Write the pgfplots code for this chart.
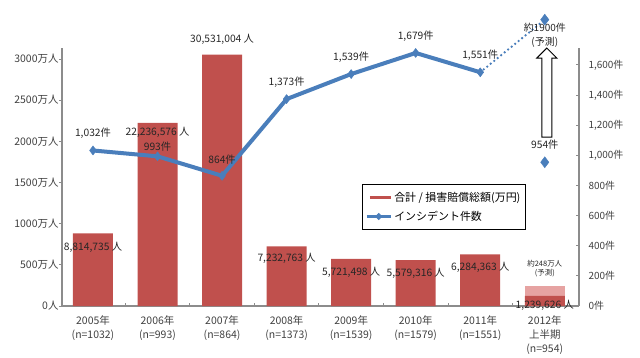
\documentclass[border=0pt]{standalone}
\usepackage{fontspec}
\setmainfont{Noto Sans CJK JP}
\usepackage{pgfplots}
\pgfplotsset{compat=1.18}
\usetikzlibrary{calc}
\definecolor{barred}{HTML}{C0504D}
\definecolor{barpink}{HTML}{E6A3A2}
\definecolor{lineblue}{HTML}{4A7EBB}
\definecolor{txt}{HTML}{404040}
\definecolor{axgray}{HTML}{8C8C8C}
\begin{document}
\begin{tikzpicture}[font=\fontsize{10.3}{12}\selectfont]
\useasboundingbox (0,0) rectangle (640bp,358bp);
% ---------- bars (left axis) ----------
\begin{axis}[
  at={(62bp,52bp)}, anchor=south west,
  width=517bp, height=258bp, scale only axis,
  xmin=-0.48, xmax=7.53, ymin=0, ymax=3134,
  axis y line*=left, axis x line*=bottom,
  axis line style={axgray, line width=1.2bp},
  tick align=inside,
  major tick style={axgray, line width=0.8bp},
  minor tick style={axgray, line width=0.8bp},
  ytick={0,500,...,3000},
  yticklabels={0人,500万人,1000万人,1500万人,2000万人,2500万人,3000万人},
  ytick style={xshift=-3bp},
  yticklabel style={text=txt, xshift=0bp, font=\fontsize{10.5}{12}\selectfont},
  xtick={0,...,7},
  major x tick style={draw=none},
  minor xtick={0.5,1.5,...,6.5},
  minor tick length=3bp, major tick length=3bp,
  xticklabels={{2005年\\(n=1032)},{2006年\\(n=993)},{2007年\\(n=864)},{2008年\\(n=1373)},{2009年\\(n=1539)},{2010年\\(n=1579)},{2011年\\(n=1551)},{2012年\\上半期\\(n=954)}},
  xticklabel style={text=txt, align=center, font=\fontsize{10.5}{14}\selectfont, anchor=north, yshift=-6bp},
  clip=false,
]
\addplot[ybar, bar width=40bp, bar shift=0pt, fill=barpink, draw=none] coordinates {(7,248)};
\addplot[ybar, bar width=40bp, bar shift=0pt, fill=barred, draw=none]
  coordinates {(0,881.47)(1,2223.66)(2,3053.10)(3,723.28)(4,572.15)(5,557.93)(6,628.44)(7,123.96)};
\path[text=black!85]
  (axis cs:0,881.47) node[yshift=-13.5bp] {8,814,735 人}
  (axis cs:1,2223.66) node[yshift=-9bp] {22,236,576 人}
  (axis cs:2,3053.10) node[yshift=15bp] {30,531,004 人}
  (axis cs:3,723.28) node[yshift=-11.5bp] {7,232,763 人}
  (axis cs:4,572.15) node[yshift=-13bp] {5,721,498 人}
  (axis cs:5,557.93) node[yshift=-13bp] {5,579,316 人}
  (axis cs:6,628.44) node[yshift=-13bp] {6,284,363 人}
  (axis cs:7,0) node[yshift=1bp] {1,239,626 人}
  (axis cs:7,248) node[yshift=17bp, align=center, font=\fontsize{7.5}{10}\selectfont] {約248万人\\(予測)};
\end{axis}
% ---------- line (right axis) ----------
\begin{axis}[
  at={(62bp,52bp)}, anchor=south west,
  width=517bp, height=258bp, scale only axis,
  xmin=-0.48, xmax=7.53, ymin=0, ymax=1712,
  axis y line*=right, axis x line=none,
  axis line style={axgray, line width=1.2bp},
  tick align=inside,
  major tick style={axgray, line width=0.8bp},
  major tick length=3bp,
  ytick={0,200,...,1600},
  yticklabels={0件,200件,400件,600件,800件,{1,000件},{1,200件},{1,400件},{1,600件}},
  yticklabel style={text=txt, xshift=6bp, font=\fontsize{10}{12}\selectfont},
  clip=false,
  legend style={at={(0.580,0.473)}, anchor=north west, draw=black, line width=0.8bp,
    font=\fontsize{11}{12}\selectfont, legend cell align=left,
    inner xsep=3bp, inner ysep=6bp, row sep=4bp},
]
\addlegendimage{legend image code/.code={\draw[barred, line width=3bp] (3bp,0bp) -- (24bp,0bp);}}
\addlegendentry{合計 / 損害賠償総額(万円)}
\addlegendimage{legend image code/.code={\draw[lineblue, line width=3bp] (0bp,0bp) -- (24bp,0bp); \fill[lineblue] (12bp,3bp) -- (15bp,0bp) -- (12bp,-3bp) -- (9bp,0bp) -- cycle;}}
\addlegendentry{インシデント件数}
\addplot[lineblue, line width=2.6bp, dash pattern=on 0pt off 4.5bp, line cap=round, forget plot]
  coordinates {(6,1551)(7,1900)};
\addplot[lineblue, line width=4bp, line join=round, mark=diamond*, mark size=4.5bp, mark options={solid, line width=0.5bp}, forget plot]
  coordinates {(0,1032)(1,993)(2,864)(3,1373)(4,1539)(5,1679)(6,1551)};
\addplot[lineblue, only marks, mark=diamond*, mark size=5.5bp, forget plot]
  coordinates {(7,1900)(7,954)};
\draw[black, line width=1bp, fill=white] ([xshift=2bp]axis cs:7,1121) ++(-5bp,0bp) -- ++(0bp,79bp) -- ++(-5bp,0bp) -- ++(10bp,10bp) -- ++(10bp,-10bp) -- ++(-5bp,0bp) -- ++(0bp,-79bp) -- cycle;
\path[text=black!85]
  (axis cs:0,1032) node[yshift=17.5bp] {1,032件}
  (axis cs:1,993) node[yshift=10bp] {993件}
  (axis cs:2,864) node[yshift=16bp] {864件}
  (axis cs:3,1373) node[yshift=17bp] {1,373件}
  (axis cs:4,1539) node[yshift=17bp] {1,539件}
  (axis cs:5,1679) node[yshift=17bp] {1,679件}
  (axis cs:6,1551) node[yshift=17bp] {1,551件}
  (axis cs:7,954) node[yshift=18bp] {954件}
  (axis cs:7,1900) node[anchor=north, yshift=0bp, align=center, font=\fontsize{10}{14}\selectfont] {約1900件\\(予測)};
\end{axis}
\end{tikzpicture}
\end{document}
